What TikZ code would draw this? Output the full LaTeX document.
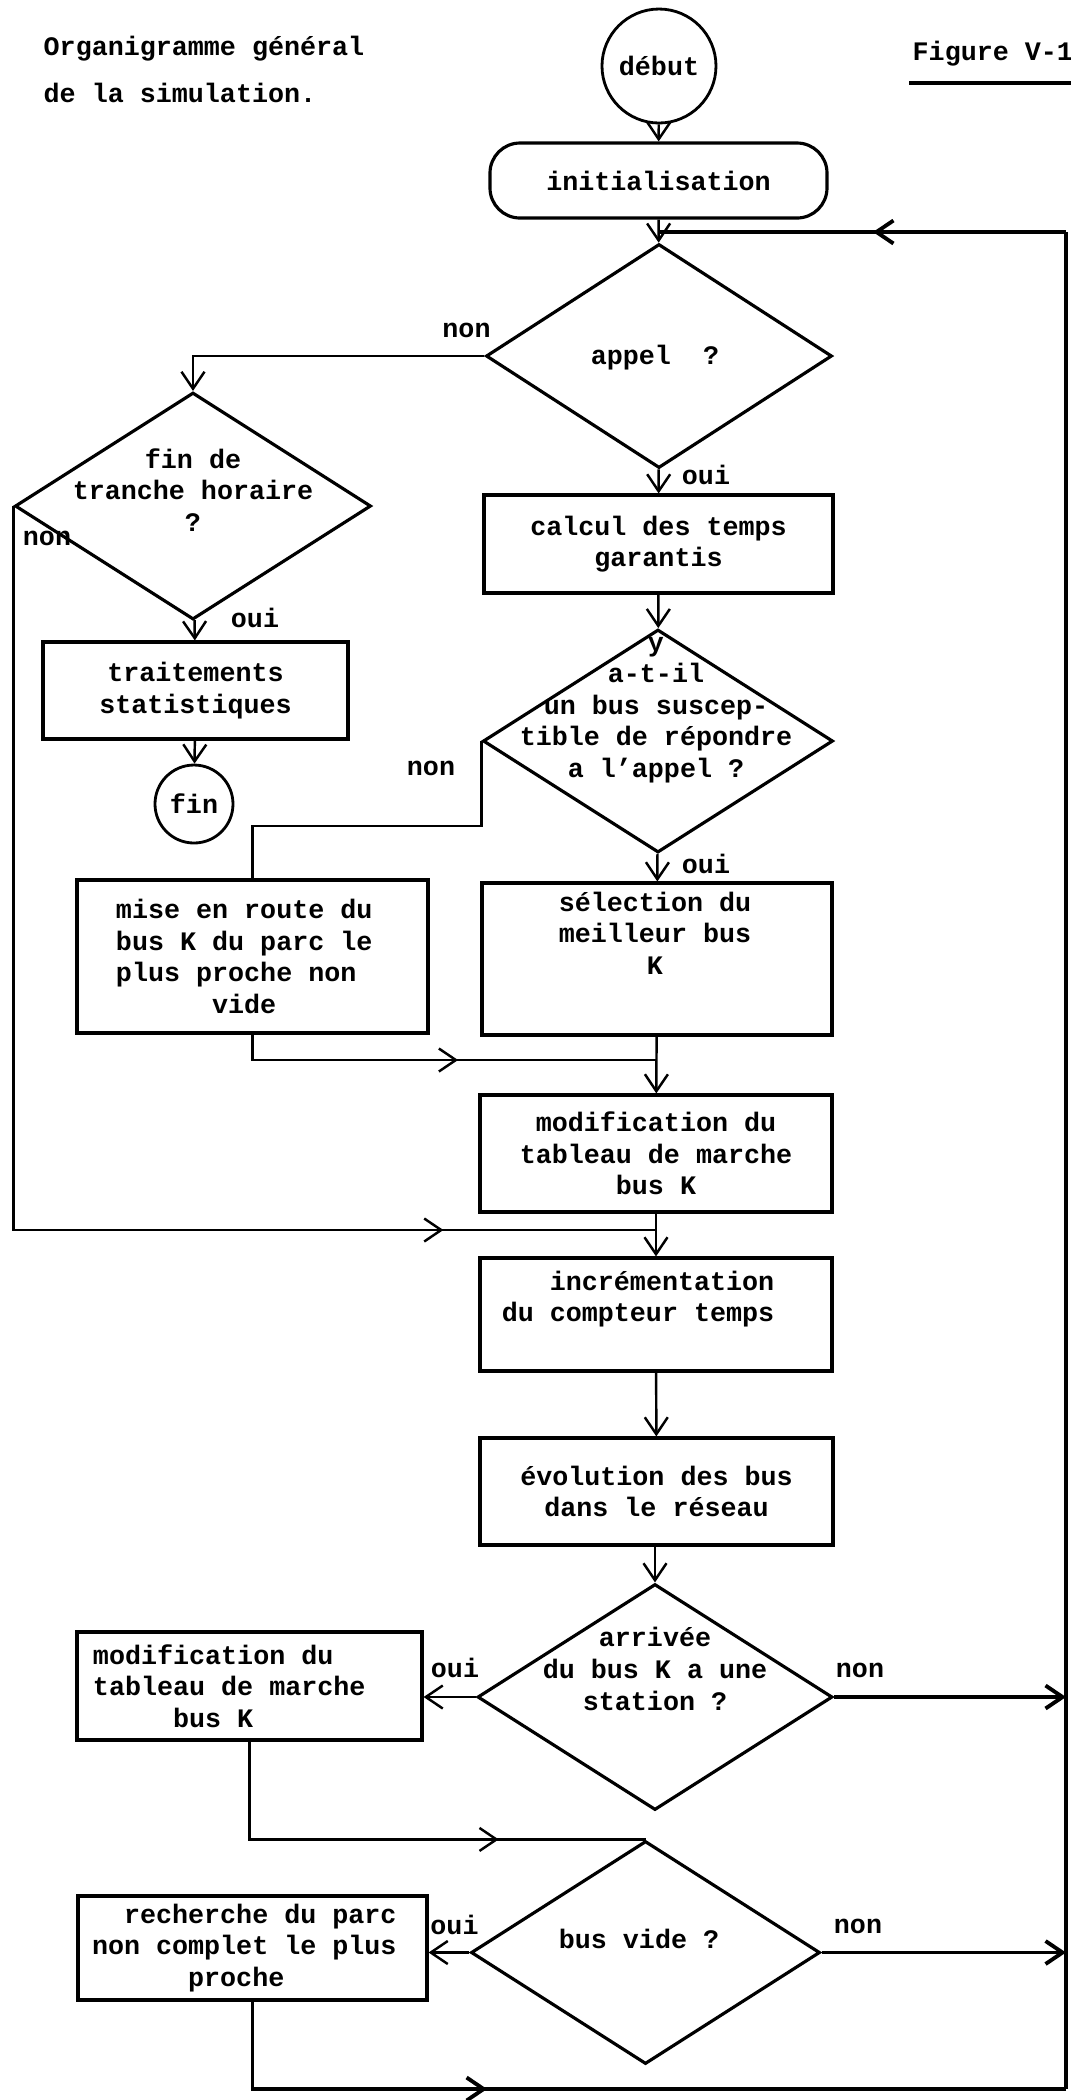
\documentclass[tikz,border=0pt]{standalone}
\usepackage{fontspec}
\setmainfont{Liberation Mono}[WordSpace={1,0,0}]
\usetikzlibrary{arrows.meta, shapes.geometric, decorations.markings, positioning}

\begin{document}
\begin{tikzpicture}[
    font=\fontsize{7.6}{9}\selectfont\bfseries,
    >={Straight Barb[length=1.7mm,width=2.3mm]},
    boite/.style={draw, rectangle, line width=0.9pt, inner sep=0pt, align=center},
    gauche/.style={text width=#1, align=left},
    choix/.style={draw, diamond, line width=0.9pt, inner sep=0pt},
    borne/.style={draw, circle, line width=0.8pt, inner sep=0pt},
    texte/.style={inner sep=0pt, align=center},
    lien/.style={line width=0.7pt},
    retour/.style={line width=1.1pt},
    fleche/.style={postaction={decorate}, decoration={markings,
        mark=at position #1 with {\arrow{Straight Barb[length=1.7mm,width=2.3mm]}}}}
  ]

    \useasboundingbox (0,0) rectangle (10.71,-21);

    % titre
    \node[anchor=base west, inner sep=0pt] (titre1) at (0.43,-0.55) {Organigramme général};
    \node[anchor=base west, inner sep=0pt] (titre2) at (0.43,-1.02) {de la simulation.};
    \node[anchor=base west, inner sep=0pt] (figure) at (9.12,-0.60) {Figure V-1};
    \draw[line width=1.2pt] ([xshift=-0.03cm,yshift=-0.23cm]figure.base west) -- ++(1.65,0);

    % colonne principale
    \node[borne, minimum size=1.14cm] (debut) at (6.59,-0.66) {début};
    \node[boite, rounded corners=0.3cm, minimum width=3.37cm, minimum height=0.75cm] (init) at (6.585,-1.805) {initialisation};

    \node[choix, minimum width=3.46cm, minimum height=2.24cm] (appel) at (6.59,-3.56) {};
    \node[texte] (appeltxt) at (6.55,-3.58) {appel\ \ ?};

    \node[boite, minimum width=3.49cm, minimum height=0.98cm] (calc) at (6.585,-5.44) {calcul des temps\\garantis};

    \node[choix, minimum width=3.50cm, minimum height=2.23cm] (yatil) at (6.58,-7.41) {};
    \node[texte] (yatiltxt) at (6.56,-7.10) {y\\a-t-il\\un bus suscep-\\tible de répondre\\a l'appel ?};

    \node[boite, minimum width=3.50cm, minimum height=1.52cm] (sel) at (6.57,-9.59) {};
    \node[texte] (seltxt) at (6.55,-9.33) {sélection du\\meilleur bus\\K};

    \node[boite, minimum width=3.52cm, minimum height=1.17cm] (modif) at (6.56,-11.535) {modification du\\tableau de marche\\bus K};

    \node[boite, minimum width=3.52cm, minimum height=1.13cm] (incr) at (6.56,-13.145) {};
    \node[texte, align=right] (incrtxt) at (6.38,-12.99) {incrémentation\\du compteur temps};

    \node[boite, minimum width=3.53cm, minimum height=1.07cm] (evol) at (6.565,-14.915) {évolution des bus\\dans le réseau};

    \node[choix, minimum width=3.55cm, minimum height=2.26cm] (arrivee) at (6.55,-16.97) {};
    \node[texte] (arriveetxt) at (6.55,-16.69) {arrivée\\du bus K a une\\station ?};

    \node[choix, minimum width=3.49cm, minimum height=2.23cm] (busvide) at (6.455,-19.525) {};
    \node[texte] (busvidetxt) at (6.39,-19.39) {bus vide ?};

    % colonne de gauche
    \node[choix, minimum width=3.56cm, minimum height=2.27cm] (fintr) at (1.93,-5.06) {};
    \node[texte] (fintrtxt) at (1.93,-4.90) {fin de\\tranche horaire\\?};

    \node[boite, minimum width=3.05cm, minimum height=0.97cm] (trait) at (1.955,-6.905) {traitements\\statistiques};
    \node[borne, minimum size=0.78cm] (fin) at (1.94,-8.04) {fin};

    \node[boite, gauche=2.73cm, minimum width=3.51cm, minimum height=1.53cm] (mise) at (2.525,-9.565)
        {\spaceskip=0.6em\relax mise en route du\\bus K du parc le\\plus proche non\\\hspace*{3.6em}vide};

    \node[boite, gauche=3.13cm, minimum width=3.45cm, minimum height=1.08cm] (modif2) at (2.495,-16.86)
        {\spaceskip=0.6em\relax modification du\\tableau de marche\\\hspace*{3em}bus K};

    \node[boite, gauche=3.21cm, minimum width=3.49cm, minimum height=1.04cm] (rech) at (2.525,-19.48)
        {\spaceskip=0.6em\relax\hspace*{1.2em}recherche du parc\\non complet le plus\\\hspace*{3.6em}proche};

    % oui / non
    \node[texte] (nonA) at (4.665,-3.30) {non};
    \node[texte] (ouiA) at (7.06,-4.75) {oui};
    \node[texte] (nonF) at (0.47,-5.38) {non};
    \node[texte] (ouiF) at (2.55,-6.18) {oui};
    \node[texte] (nonY) at (4.31,-7.68) {non};
    \node[texte] (ouiY) at (7.06,-8.64) {oui};
    \node[texte] (ouiS) at (4.55,-16.68) {oui};
    \node[texte] (nonS) at (8.60,-16.70) {non};
    \node[texte] (ouiV) at (4.545,-19.25) {oui};
    \node[texte] (nonV) at (8.58,-19.26) {non};

    % points de jonction
    \coordinate (jinit) at (6.59,-2.32);
    \coordinate (hautdroit) at (10.66,-2.32);
    \coordinate (basdroit) at (10.66,-20.89);
    \coordinate (j1) at (6.57,-10.60);
    \coordinate (j2) at (6.56,-12.30);

    % liaisons
    \draw[lien,->] (debut) -- (init);
    \draw[lien,->] (init) -- (appel);
    \draw[lien,->] (appel.west) -| (fintr.north);
    \draw[lien,->] (appel) -- (calc);
    \draw[lien,->] (fintr) -- (trait);
    \draw[lien,->] (trait) -- (fin);
    \draw[lien,->] (calc) -- (yatil);
    \draw[lien] (yatil.west) -- ++(0,-0.85) -| (mise.north);
    \draw[lien,->] (yatil) -- (sel);
    \draw[lien,->] (sel) -- (modif);
    \draw[lien, fleche=2.31cm] (mise.south) |- (j1);
    \draw[lien, fleche=11.54cm] (fintr.west) |- (j2);
    \draw[lien,->] (modif) -- (incr);
    \draw[lien,->] (incr) -- (evol);
    \draw[lien,->] (evol.south -| arrivee.north) -- (arrivee.north);
    \draw[lien,->] (arrivee.west) -- (modif2.east |- arrivee.west);
    \draw[retour,->] (arrivee.east) -- (arrivee.east -| hautdroit);
    \draw[lien, fleche=3.47cm] (modif2.south) |- (busvide.north);
    \draw[lien,->] (busvide.west) -- (rech.east |- busvide.west);
    \draw[retour,->] (busvide.east) -- (busvide.east -| hautdroit);

    % boucle de retour
    \draw[retour, fleche=3.22cm] (rech.south) |- (basdroit);
    \draw[retour] (basdroit) -- (hautdroit);
    \draw[retour, fleche=1.93cm] (hautdroit) -- (jinit);

\end{tikzpicture}
\end{document}
